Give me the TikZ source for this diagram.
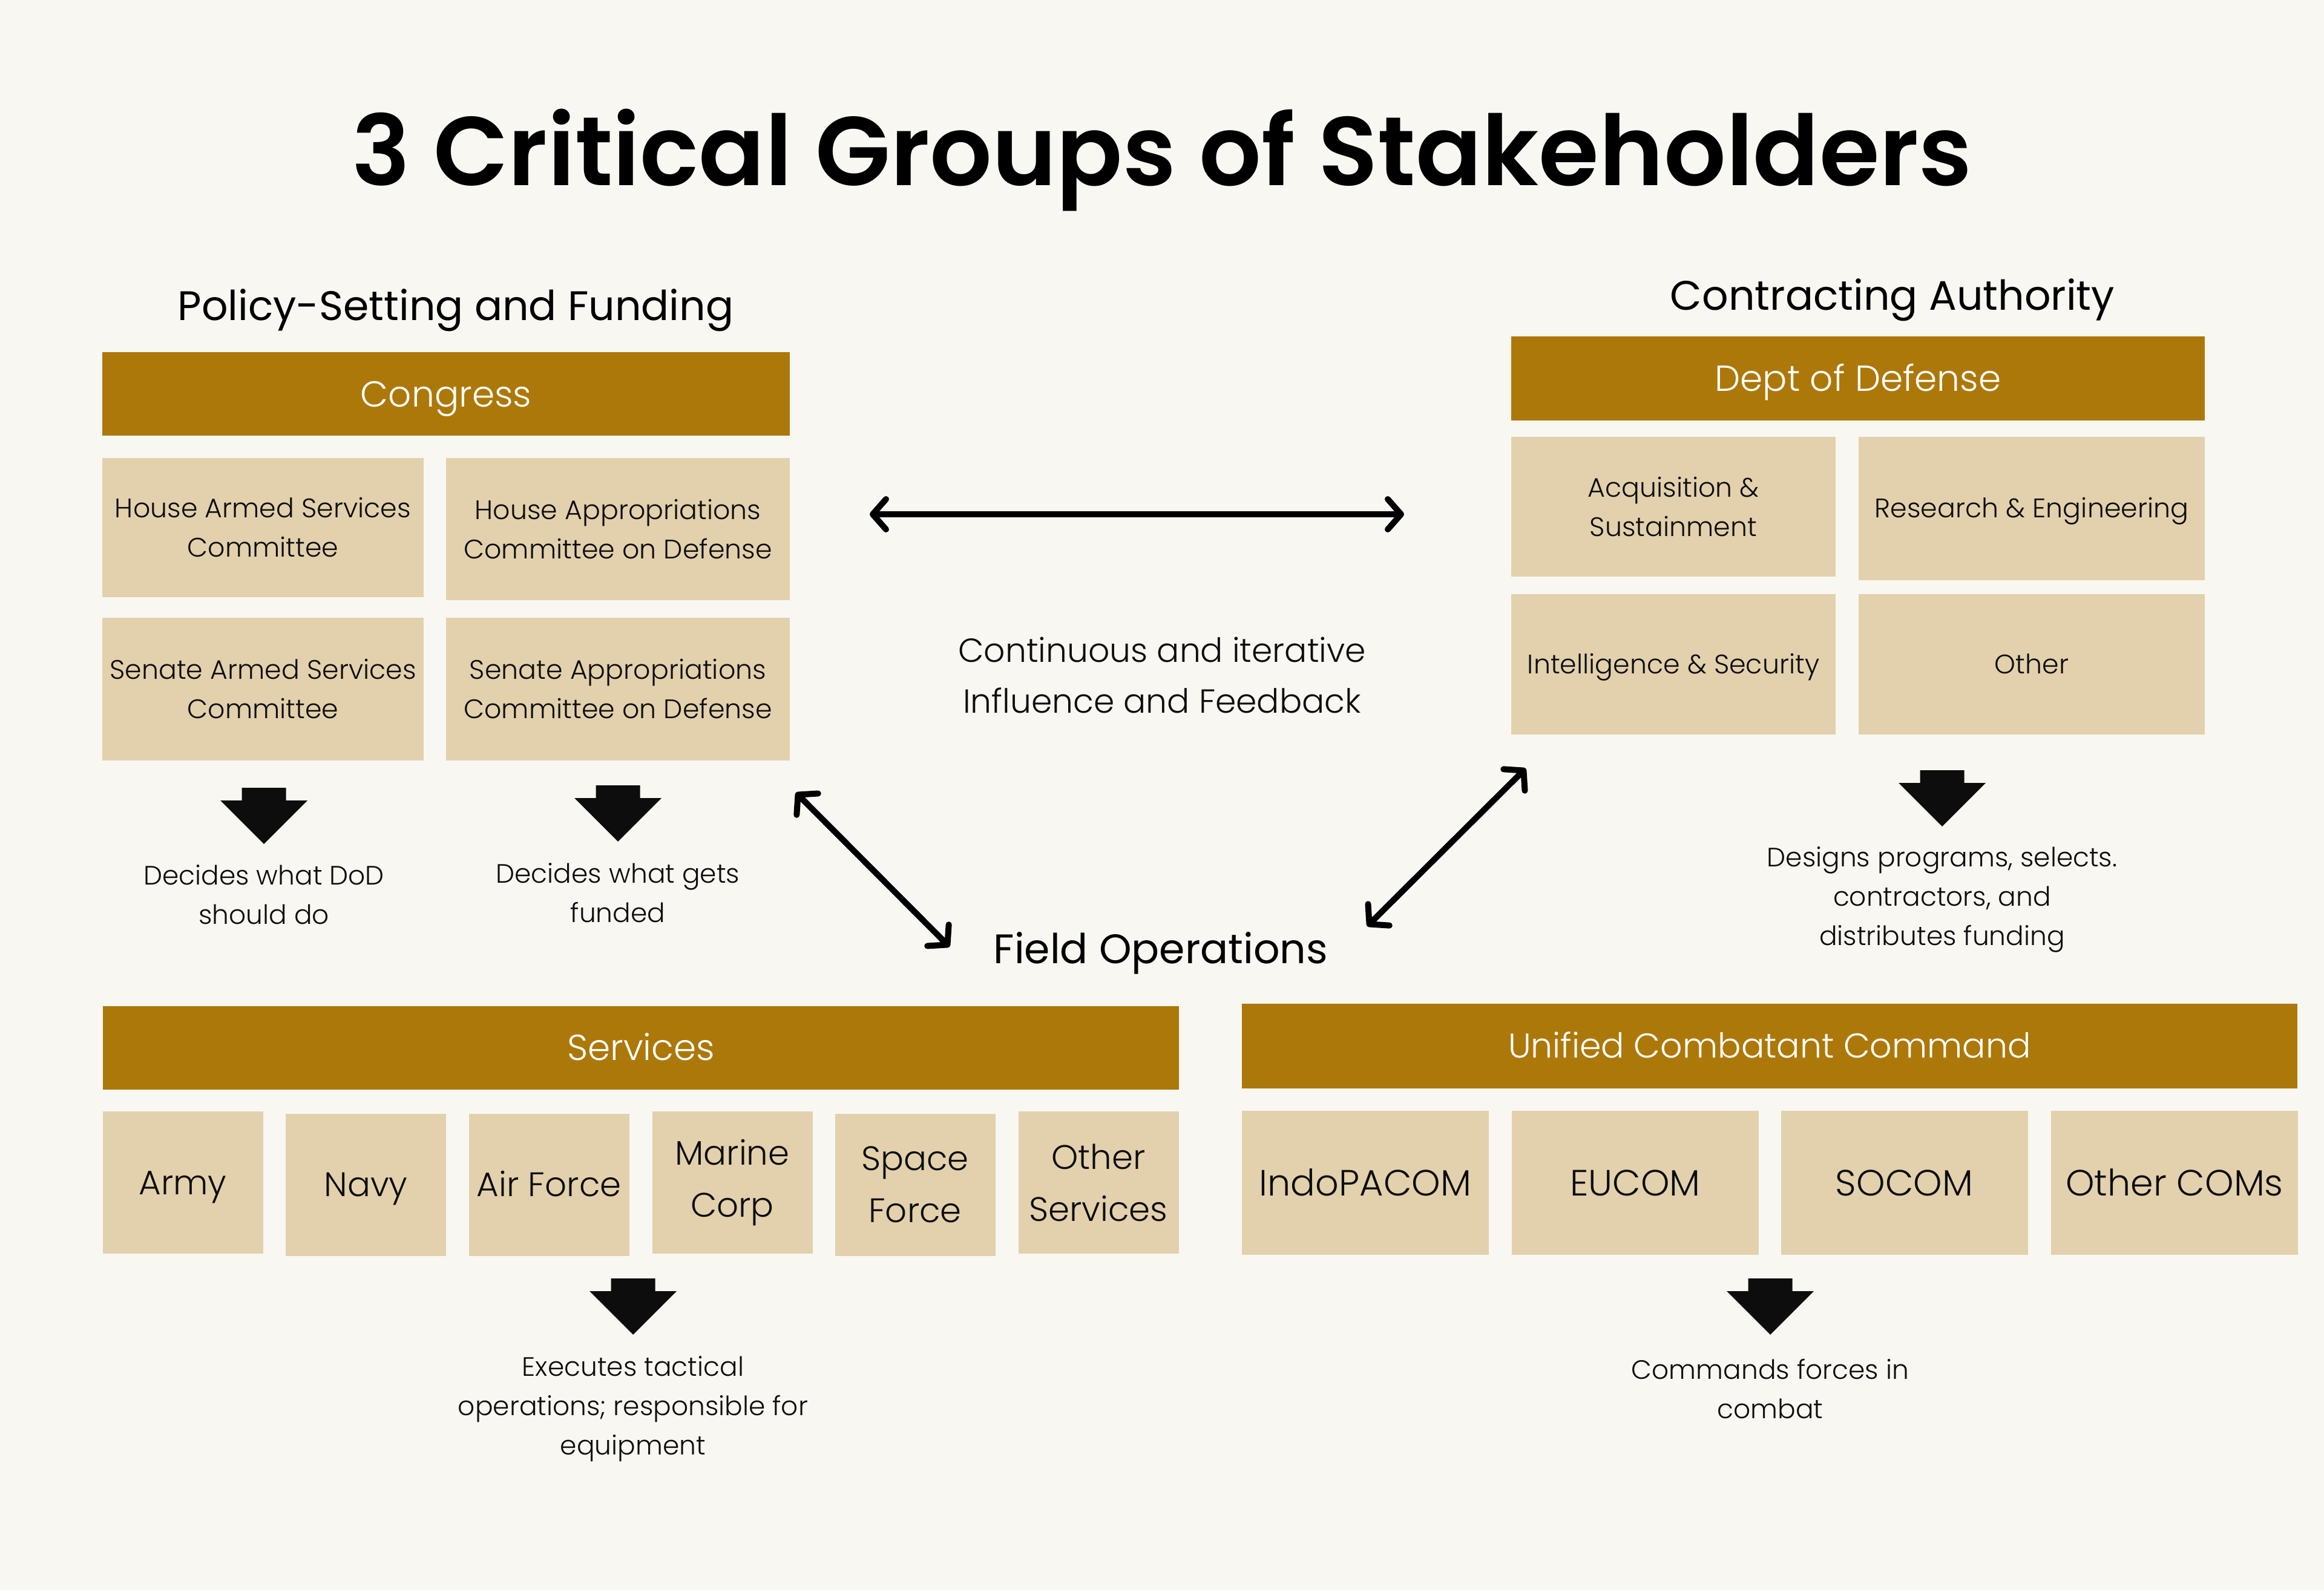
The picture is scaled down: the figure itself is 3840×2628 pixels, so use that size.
\documentclass[tikz,border=0pt]{standalone}
\usepackage{fontspec}
\setmainfont{Poppins}[UprightFont=* Light, BoldFont=* SemiBold]
\newfontfamily\headfont{Poppins}
\usetikzlibrary{arrows.meta}
\definecolor{paper}{HTML}{F8F7F2}
\definecolor{gold}{HTML}{AD780A}
\definecolor{sand}{HTML}{E2D1AC}
\definecolor{ink}{HTML}{0D0D0D}
\tikzset{
    oneline/.style={text height=#1, text depth=0pt},
    bar/.style={fill=gold, text=white, minimum height=13.8mm, inner sep=0, oneline=11.9pt, font=\fontsize{17pt}{21pt}\selectfont},
    cell/.style={fill=sand, text=ink, inner sep=0, align=center, font=\fontsize{12.6pt}{18.5pt}\selectfont},
    unitbox/.style={fill=sand, text=ink, inner sep=0, align=center, minimum width=26.5mm, minimum height=23.5mm, font=\fontsize{16pt}{24.5pt}\selectfont},
    combox/.style={fill=sand, text=ink, inner sep=0, minimum width=40.8mm, minimum height=23.8mm, oneline=12pt, font=\fontsize{17.2pt}{24.5pt}\selectfont},
    caption/.style={text=ink, align=center, inner sep=0, font=\fontsize{12.5pt}{18.5pt}\selectfont},
    heading/.style={text=black, inner sep=0, oneline=13.6pt, font=\headfont\fontsize{19.4pt}{24pt}\selectfont},
    link/.style={draw=black, line width=1mm, line cap=round,
        {Straight Barb[length=2.2mm,width=5mm,line cap=round,line join=round]}-{Straight Barb[length=2.2mm,width=5mm,line cap=round,line join=round]}},
    pics/blockdown/.style={code={
        \fill[ink] (-36.5,0) -- (36.5,0) -- (36.5,21) -- (72,21) -- (0,93) -- (-72,21) -- (-36.5,21) -- cycle;
    }}
}

\begin{document}
\begin{tikzpicture}[x=0.1mm, y=-0.1mm]
    \fill[paper] (0,0) rectangle (3840,2628);
    \useasboundingbox (0,0) rectangle (3840,2628);

    \node[inner sep=0, text=black, font=\fontsize{45.9pt}{54pt}\selectfont\bfseries] (title) at (1920,265) {3 Critical Groups of Stakeholders};

    % policy-setting and funding
    \node[heading] (policy) at (753,506) {Policy-Setting and Funding};
    \node[bar, minimum width=113.6mm] (congress) at (737,651.5) {Congress};
    \node[cell, minimum width=53.1mm, minimum height=23mm] (hasc) at (434.5,872) {House Armed Services\\Committee};
    \node[cell, minimum width=56.8mm, minimum height=23.5mm] (hacd) at (1021,874.5) {House Appropriations\\Committee on Defense};
    \node[cell, minimum width=53.1mm, minimum height=23.6mm] (sasc) at (434.5,1139) {Senate Armed Services\\Committee};
    \node[cell, minimum width=56.8mm, minimum height=23.6mm] (sacd) at (1021,1139) {Senate Appropriations\\Committee on Defense};
    \pic at (436,1302) {blockdown};
    \pic at (1021,1298) {blockdown};
    \node[caption] (whatdod) at (436,1479) {Decides what DoD\\should do};
    \node[caption] (funded) at (1021,1476) {Decides what gets\\funded};

    % contracting authority
    \node[heading] (contracting) at (3127,489) {Contracting Authority};
    \node[bar, minimum width=114.6mm, minimum height=13.9mm] (dod) at (3070,625.5) {Dept of Defense};
    \node[cell, minimum width=53.6mm, minimum height=23.1mm] (acq) at (2765,837.5) {Acquisition \&\\Sustainment};
    \node[cell, oneline=8.8pt, minimum width=57.2mm, minimum height=23.7mm] (research) at (3357,840.5) {Research \& Engineering};
    \node[cell, oneline=8.8pt, minimum width=53.6mm, minimum height=23.2mm] (intel) at (2765,1098) {Intelligence \& Security};
    \node[cell, oneline=8.8pt, minimum width=57.2mm, minimum height=23.2mm] (other) at (3357,1098) {Other};
    \pic at (3209,1273) {blockdown};
    \node[caption] (designs) at (3209,1487) {Designs programs, selects.\\contractors, and\\distributes funding};

    % feedback loop
    \node[caption, font=\fontsize{15.7pt}{23.9pt}\selectfont] (loop) at (1920,1116) {Continuous and iterative\\Influence and Feedback};
    \node[heading] (field) at (1918,1569) {Field Operations};
    \coordinate (hl) at (1437,850);
    \coordinate (hr) at (2320,850);
    \coordinate (dl1) at (1315,1310);
    \coordinate (dl2) at (1569,1565);
    \coordinate (dr1) at (2521,1270);
    \coordinate (dr2) at (2259,1531);
    \draw[link] (hl) -- (hr);
    \draw[link] (dl1) -- (dl2);
    \draw[link] (dr1) -- (dr2);

    % services
    \node[bar, minimum width=177.8mm] (services) at (1059,1732) {Services};
    \node[unitbox, oneline=11.2pt] (army) at (302,1954.5) {Army};
    \node[unitbox, oneline=11.2pt] (navy) at (604.5,1958) {Navy};
    \node[unitbox, oneline=11.2pt] (airforce) at (907,1958) {Air Force};
    \node[unitbox] (marine) at (1210,1954.5) {Marine\\Corp};
    \node[unitbox] (space) at (1512,1958) {Space\\Force};
    \node[unitbox] (othersvc) at (1815,1954.5) {Other\\Services};
    \pic at (1046,2113) {blockdown};
    \node[caption] (executes) at (1046,2329) {Executes tactical\\operations; responsible for\\equipment};

    % unified combatant command
    \node[bar, minimum width=174.4mm, minimum height=14mm, oneline=11.3pt, font=\fontsize{16.2pt}{21pt}\selectfont] (ucc) at (2924,1729) {Unified Combatant Command};
    \node[combox] (indopacom) at (2256,1955) {IndoPACOM};
    \node[combox] (eucom) at (2702,1955) {EUCOM};
    \node[combox] (socom) at (3146.5,1955) {SOCOM};
    \node[combox] (othercom) at (3593,1955) {Other COMs};
    \pic at (2925,2113) {blockdown};
    \node[caption] (commands) at (2925,2295.5) {Commands forces in\\combat};
\end{tikzpicture}
\end{document}
